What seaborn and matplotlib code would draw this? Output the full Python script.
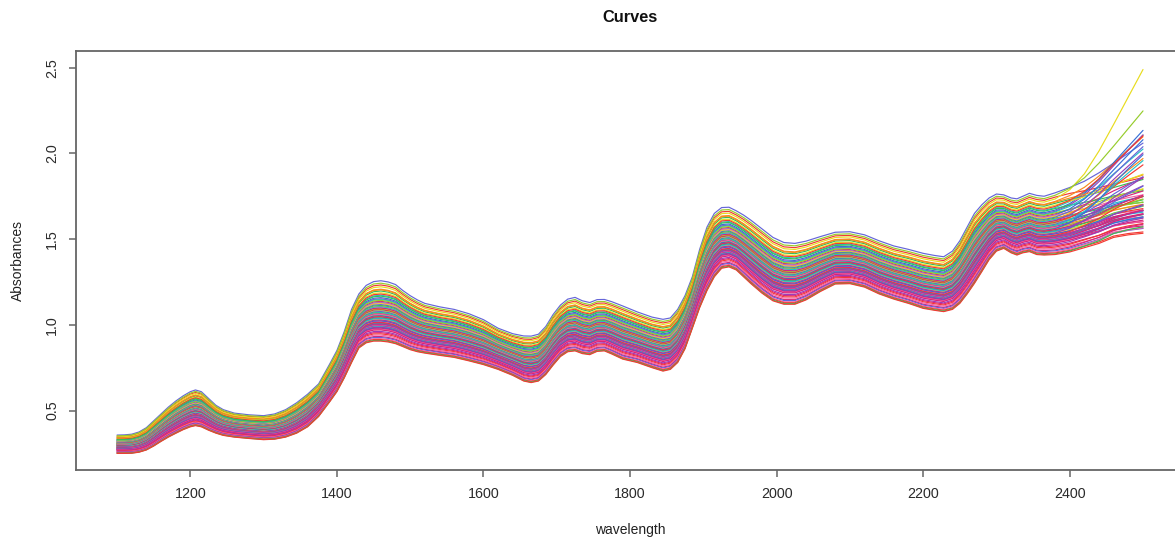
import numpy as np
import pandas as pd
import matplotlib
matplotlib.use("Agg")
import matplotlib.pyplot as plt
import seaborn as sns

wavelength = [1100, 1110, 1120, 1130, 1140, 1150, 1160, 1170, 1180, 1190,
              1200, 1207, 1215, 1225, 1235, 1245, 1260, 1280, 1300, 1315,
              1330, 1345, 1360, 1375, 1390, 1400, 1410, 1420, 1430, 1440,
              1450, 1460, 1470, 1480, 1490, 1500, 1510, 1520, 1540, 1560,
              1580, 1600, 1620, 1640, 1655, 1665, 1675, 1685, 1695, 1705,
              1715, 1725, 1735, 1745, 1755, 1765, 1775, 1790, 1810, 1830,
              1845, 1855, 1865, 1875, 1885, 1895, 1905, 1915, 1925, 1935,
              1945, 1955, 1965, 1980, 1995, 2010, 2025, 2040, 2060, 2080,
              2100, 2120, 2140, 2160, 2180, 2200, 2215, 2228, 2240, 2250,
              2260, 2270, 2280, 2290, 2300, 2310, 2320, 2328, 2336, 2345,
              2355, 2365, 2380, 2400, 2420, 2440, 2460, 2480, 2500]

# upper edge of the band of curves
high = [0.357, 0.358, 0.362, 0.375, 0.40, 0.44, 0.48, 0.52, 0.555, 0.585,
        0.61, 0.62, 0.61, 0.57, 0.53, 0.505, 0.485, 0.475, 0.47, 0.48,
        0.505, 0.545, 0.595, 0.655, 0.77, 0.85, 0.96, 1.09, 1.18, 1.23,
        1.252, 1.257, 1.25, 1.235, 1.20, 1.17, 1.145, 1.125, 1.105, 1.09,
        1.065, 1.03, 0.98, 0.948, 0.935, 0.934, 0.945, 0.99, 1.06, 1.115,
        1.15, 1.16, 1.14, 1.13, 1.147, 1.148, 1.135, 1.11, 1.075, 1.045,
        1.032, 1.04, 1.09, 1.17, 1.28, 1.44, 1.57, 1.65, 1.684, 1.686,
        1.665, 1.64, 1.61, 1.56, 1.51, 1.48, 1.475, 1.488, 1.515, 1.54,
        1.543, 1.525, 1.49, 1.46, 1.44, 1.417, 1.405, 1.397, 1.43, 1.49,
        1.57, 1.65, 1.70, 1.74, 1.763, 1.758, 1.74, 1.735, 1.75, 1.767,
        1.755, 1.75, 1.77, 1.79, 1.80, 1.81, 1.82, 1.83, 1.84]

# lower edge of the band of curves
low = [0.250, 0.250, 0.251, 0.257, 0.27, 0.293, 0.32, 0.345, 0.367, 0.388,
       0.405, 0.412, 0.405, 0.385, 0.368, 0.355, 0.345, 0.337, 0.33, 0.333,
       0.345, 0.368, 0.405, 0.465, 0.55, 0.61, 0.69, 0.78, 0.865, 0.895,
       0.905, 0.905, 0.90, 0.89, 0.873, 0.855, 0.843, 0.835, 0.822, 0.81,
       0.79, 0.768, 0.74, 0.705, 0.672, 0.663, 0.672, 0.71, 0.765, 0.815,
       0.843, 0.848, 0.832, 0.826, 0.845, 0.848, 0.83, 0.80, 0.78, 0.75,
       0.73, 0.74, 0.78, 0.86, 0.98, 1.10, 1.20, 1.28, 1.33, 1.338,
       1.32, 1.28, 1.24, 1.185, 1.14, 1.12, 1.12, 1.145, 1.195, 1.238,
       1.24, 1.22, 1.18, 1.15, 1.125, 1.096, 1.085, 1.077, 1.09, 1.125,
       1.18, 1.242, 1.31, 1.38, 1.43, 1.446, 1.42, 1.407, 1.42, 1.427,
       1.41, 1.407, 1.41, 1.425, 1.45, 1.475, 1.51, 1.525, 1.534]

# shape of the fan-out at the long-wavelength end
tail = [0] * 102 + [0.0, 0.05, 0.17, 0.35, 0.56, 0.78, 1.0]

# per-sample position inside the band and size of the end rise
mix = [1.00, 0.93, 0.86, 0.90, 0.96, 0.83, 0.76, 0.72, 0.70, 0.66,
       0.85, 0.80, 0.78, 0.745, 0.69, 0.675, 0.64, 0.635, 0.62, 0.605,
       0.59, 0.575, 0.57, 0.55, 0.545, 0.53, 0.52, 0.505, 0.50, 0.49,
       0.475, 0.47, 0.455, 0.45, 0.44, 0.425, 0.42, 0.405, 0.40, 0.385,
       0.375, 0.37, 0.355, 0.35, 0.335, 0.33, 0.315, 0.31, 0.30, 0.29,
       0.285, 0.275, 0.265, 0.255, 0.25, 0.24, 0.23, 0.22, 0.215, 0.205,
       0.195, 0.185, 0.16, 0.14, 0.12, 0.10, 0.075, 0.06, 0.04, 0.025,
       0.01, 0.00]
rise = [0.22, 0.04, 0.30, 0.68, 0.42, 0.06, 0.34, 0.38, 0.36, 0.12,
        0.08, 0.10, 0.33, 0.02, 0.28, 0.05, 0.35, 0.03, 0.07, 0.32,
        0.00, 0.26, 0.04, 0.30, 0.08, 0.02, 0.24, 0.06, 0.01, 0.18,
        0.05, 0.28, 0.03, 0.14, 0.00, 0.07, 0.33, 0.02, 0.10, 0.04,
        0.16, 0.01, 0.05, 0.22, 0.03, 0.06, 0.00, 0.12, 0.04, 0.02,
        0.08, 0.03, 0.05, 0.01, 0.06, 0.02, 0.04, 0.00, 0.03, 0.05,
        0.01, 0.02, 0.04, 0.00, 0.02, 0.00, 0.03, 0.01, 0.02, 0.00,
        0.035, 0.00]

SB, RD, OR, YE = "#6565d8", "#f23a33", "#f7891f", "#e8dc1e"
YG, GR, CY, BL = "#96cc2c", "#35bf55", "#24c2c8", "#3670d8"
PU, MA, PK = "#9a3fb8", "#d92478", "#f564a6"
line_colors = [SB, RD, OR, YE, YG, GR, CY, BL, PU, MA,
               OR, YE, RD, GR, CY, YG, BL, PK, YE, SB,
               GR, OR, CY, PU, MA, YG, RD, BL, YE, SB,
               GR, CY, OR, PU, PK, YG, BL, RD, MA, GR,
               SB, CY, YE, PU, MA, BL, PK, RD, MA, GR,
               PU, MA, SB, PK, MA, CY, PU, MA, BL, MA,
               PK, MA, PU, MA, RD, PK, MA, SB, PK, RD,
               GR, RD]

# build the long table of curves
wl = np.array(wavelength)
hi, lo, tl = np.array(high), np.array(low), np.array(tail)
names = ["s%02d" % (i + 1) for i in range(len(mix))]
frames = []
for name, w, r in zip(names, mix, rise):
    frames.append(pd.DataFrame({"wavelength": wl,
                                "absorbance": lo + w * (hi - lo) + r * tl,
                                "sample": name}))
df = pd.concat(frames, ignore_index=True)

sns.set_style("white")
plt.rcParams["font.family"] = ["Liberation Sans", "DejaVu Sans"]

fig = plt.figure(figsize=(11.75, 5.4), dpi=100)
ax = fig.add_axes([0.0647, 0.1296, 0.943, 0.7765])

sns.lineplot(data=df, x="wavelength", y="absorbance", hue="sample",
             hue_order=names, palette=line_colors, estimator=None,
             sort=False, legend=False, linewidth=0.85, ax=ax)

ax.set_xlim(1044, 2556)
ax.set_ylim(0.153, 2.599)
ax.set_xticks([1200, 1400, 1600, 1800, 2000, 2200, 2400])
ax.set_yticks([0.5, 1.0, 1.5, 2.0, 2.5])
ax.set_xlabel("")
ax.set_ylabel("")

for s in ax.spines.values():
    s.set_color("#666666")
    s.set_linewidth(1.3)
ax.tick_params(direction="out", length=5, width=1.1, color="#666666",
               labelsize=10.3, labelcolor="#2a2a2a", pad=7,
               bottom=True, left=True)
for lab in ax.get_yticklabels():
    lab.set_rotation(90)
    lab.set_va("center")

fig.text(0.536, 0.967, "Curves", ha="center", va="center",
         fontsize=11.8, fontweight="bold", color="#111111")
fig.text(0.536, 0.019, "wavelength", ha="center", va="center",
         fontsize=10, color="#222222")
fig.text(0.0153, 0.518, "Absorbances", ha="center", va="center",
         rotation=90, fontsize=10, color="#222222")

fig.savefig("out.png", dpi=100)
